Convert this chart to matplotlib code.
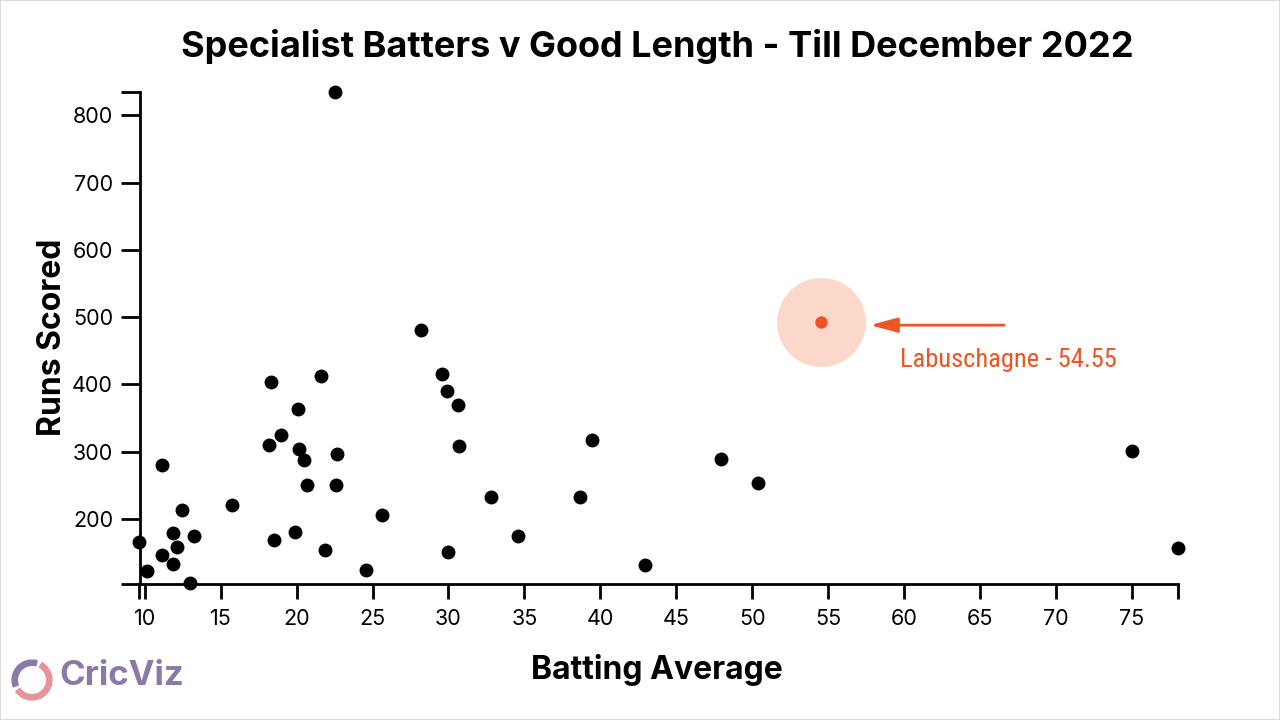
import matplotlib
matplotlib.use("Agg")
import matplotlib.pyplot as plt
from matplotlib.patches import Wedge, Rectangle
from matplotlib import font_manager

# ---- data ----
batting_avg = [9.65, 10.16, 11.12, 11.12, 11.87, 12.09, 11.87, 12.46, 13.23, 12.96,
               15.71, 18.30, 18.17, 18.98, 18.54, 19.86, 20.10, 20.18, 20.47, 20.71,
               21.61, 21.85, 22.51, 22.67, 22.60, 24.58, 25.60, 28.20, 29.55, 29.91,
               30.63, 30.67, 29.97, 32.82, 34.58, 38.64, 39.47, 42.96, 47.97, 50.36,
               75.00, 78.03]
runs_scored = [165, 123, 280, 146, 179, 158, 133, 213, 174, 104,
               221, 404, 310, 324, 168, 180, 363, 304, 288, 250,
               412, 154, 834, 296, 250, 124, 206, 481, 415, 390,
               369, 308, 151, 232, 174, 233, 317, 131, 289, 253,
               301, 157]
highlight_name = "Labuschagne"
highlight_avg = 54.55
highlight_runs = 492

x_ticks = [10, 15, 20, 25, 30, 35, 40, 45, 50, 55, 60, 65, 70, 75]
y_ticks = [200, 300, 400, 500, 600, 700, 800]

title = "Specialist Batters v Good Length - Till December 2022"
x_label = "Batting Average"
y_label = "Runs Scored"

ORANGE = "#ee5424"
PEACH = "#fcd8cb"
LOGO_PURPLE = "#8b7aa8"
LOGO_PINK = "#e8939a"

plt.rcParams['font.family'] = ['Inter', 'DejaVu Sans']

# condensed font for the annotation, if any is installed
available = {f.name for f in font_manager.fontManager.ttflist}
ann_family, ann_size = 'Liberation Sans', 16.5
for cand in ['Roboto Condensed', 'Liberation Sans Narrow', 'Open Sans Condensed',
             'DejaVu Sans Condensed', 'Noto Sans Condensed']:
    if cand in available:
        ann_family, ann_size = cand, 19
        break

fig = plt.figure(figsize=(12.8, 7.2), dpi=100)
W, H = 1280, 720
ax = fig.add_axes([139.5 / W, (H - 584) / H, (1177.7 - 139.5) / W, (584 - 92.5) / H])

all_x = batting_avg + [highlight_avg]
all_y = runs_scored + [highlight_runs]
ax.set_xlim(min(all_x), max(all_x))
ax.set_ylim(103, max(all_y))

ax.scatter(batting_avg, runs_scored, s=100, color="black", linewidths=0, zorder=3, clip_on=False)
ax.scatter([highlight_avg], [highlight_runs], s=4100, color=PEACH, linewidths=0, zorder=2, clip_on=False)
ax.scatter([highlight_avg], [highlight_runs], s=80, color=ORANGE, linewidths=0, zorder=4, clip_on=False)

# annotation arrow
ax.annotate("", xy=(57.78, 488), xytext=(66.6, 488),
            arrowprops=dict(arrowstyle="-|>,head_length=1.65,head_width=0.45",
                            color=ORANGE, lw=2, shrinkA=0, shrinkB=0))
ax.text(59.75, 425.5, f"{highlight_name} - {highlight_avg}", color=ORANGE,
        fontsize=ann_size, ha="left", va="baseline",
        family=[ann_family, 'DejaVu Sans'])

for s in ["top", "right"]:
    ax.spines[s].set_visible(False)
for s in ["left", "bottom"]:
    ax.spines[s].set_linewidth(2)

ax.set_xticks(x_ticks)
ax.set_yticks(y_ticks)
ax.set_xticks([min(all_x), max(all_x)], minor=True)
ax.set_yticks([103, max(all_y)], minor=True)
ax.tick_params(axis="x", which="both", length=11, width=2, color="black")
ax.tick_params(axis="y", which="both", length=14, width=2, color="black")
ax.tick_params(axis="both", which="major", labelsize=15.5)
ax.tick_params(axis="x", which="major", pad=7)
ax.tick_params(axis="y", which="major", pad=5)
ax.tick_params(which="minor", labelbottom=False, labelleft=False)

fig.text(657 / W, 1 - 47 / H, title, fontsize=26, fontweight="bold", ha="center", va="center")
fig.text(657 / W, 1 - 670 / H, x_label, fontsize=23, fontweight="bold", ha="center", va="center")
fig.text(53 / W, 1 - 337 / H, y_label, fontsize=23, fontweight="bold", ha="center", va="center",
         rotation=90)

# CricViz logo
lax = fig.add_axes([11 / W, (H - 701) / H, 42 / W, 42 / H])
lax.set_xlim(-1, 1)
lax.set_ylim(-1, 1)
lax.set_aspect("equal")
lax.axis("off")
lax.add_patch(Wedge((0, 0), 0.95, 75, 200, width=0.25, color=LOGO_PURPLE))
lax.add_patch(Wedge((0, 0), 0.95, 215, 60, width=0.25, color=LOGO_PINK))
fig.text(59 / W, 1 - 676 / H, "CricViz", fontsize=25, fontweight="bold", color=LOGO_PURPLE,
         ha="left", va="center")

# light frame
fig.add_artist(Rectangle((0, 0), 1, 1, transform=fig.transFigure, fill=False,
                         edgecolor="#dddddd", lw=1.5))

fig.savefig("out.png", dpi=100, facecolor="white")
